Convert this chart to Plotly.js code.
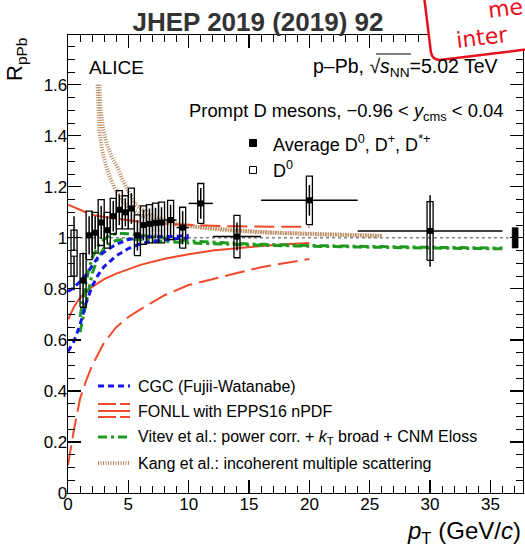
<!DOCTYPE html>
<html>
<head>
<meta charset="utf-8">
<script src="https://cdn.plot.ly/plotly-3.0.1.min.js"></script>
<style>html,body{margin:0;padding:0;background:#fff;}#chart{width:525px;height:556px;}</style>
</head>
<body>
<div id="chart"></div>
<script>
// ---------------- data ----------------
// D0 (0 < pT < 1 GeV/c)
const d0Pt = [0.5];
const d0Val = [0.94];
const d0Stat = [0.145];
const d0Sys = [0.09];
const d0BinHalf = [0.5];

// Average D0, D+, D*+
const avgPt = [1.25, 1.75, 2.25, 2.75, 3.25, 3.75, 4.25, 4.75, 5.25, 5.75, 6.25, 6.75, 7.25, 7.75, 8.5, 9.5, 11, 14, 20, 30];
const avgVal = [0.833, 1.01, 1.02, 1.06, 1.03, 1.085, 1.11, 1.10, 1.115, 1.01, 1.05, 1.055, 1.058, 1.06, 1.07, 1.04, 1.135, 1.005, 1.147, 1.027];
const avgStat = [0.11, 0.075, 0.065, 0.065, 0.055, 0.06, 0.06, 0.055, 0.06, 0.06, 0.06, 0.06, 0.06, 0.06, 0.06, 0.065, 0.06, 0.055, 0.06, 0.14];
const avgSys = [0.105, 0.095, 0.08, 0.09, 0.07, 0.07, 0.075, 0.065, 0.08, 0.08, 0.075, 0.075, 0.078, 0.08, 0.077, 0.08, 0.078, 0.083, 0.095, 0.115];
const avgBinHalf = [0.25, 0.25, 0.25, 0.25, 0.25, 0.25, 0.25, 0.25, 0.25, 0.25, 0.25, 0.25, 0.25, 0.25, 0.5, 0.5, 1, 2, 4, 6];

// normalisation uncertainty
const normPt = [37.05];
const normUnc = [0.04];
const unity = 1;

// CGC (Fujii-Watanabe)
const cgcPt = [0, 0.5, 1, 1.5, 2, 2.5, 3, 4, 5, 6, 7, 8, 9, 10];
const cgcUp = [0.79, 0.805, 0.83, 0.855, 0.89, 0.925, 0.945, 0.975, 0.993, 1.003, 1.004, 1.004, 1.006, 1.01];
const cgcLow = [0.555, 0.595, 0.66, 0.745, 0.81, 0.855, 0.888, 0.93, 0.958, 0.977, 0.986, 0.992, 0.997, 1.0];

// FONLL with EPPS16 nPDF
const fonllPt = [0, 0.5, 1, 1.5, 2, 3, 4, 5, 6, 8, 10, 12, 14, 16, 18, 20];
const fonllCen = [0.68, 0.73, 0.765, 0.79, 0.808, 0.838, 0.86, 0.878, 0.894, 0.918, 0.936, 0.95, 0.96, 0.968, 0.975, 0.98];
const fonllUp = [1.13, 1.12, 1.11, 1.1, 1.09, 1.082, 1.075, 1.069, 1.063, 1.055, 1.05, 1.047, 1.045, 1.044, 1.043, 1.043];
const fonllLow = [0.11, 0.25, 0.37, 0.44, 0.5, 0.59, 0.65, 0.69, 0.72, 0.775, 0.815, 0.84, 0.862, 0.885, 0.902, 0.917];

// Vitev et al.
const vitevPt = [1, 1.25, 1.5, 1.75, 2, 2.5, 3, 3.5, 4, 5, 6, 8, 10, 15, 20, 30, 36];
const vitevUp = [0.69, 0.76, 0.83, 0.88, 0.92, 0.97, 0.995, 1.01, 1.017, 1.016, 1.01, 0.998, 0.988, 0.976, 0.97, 0.963, 0.96];
const vitevLow = [0.63, 0.69, 0.75, 0.81, 0.86, 0.925, 0.96, 0.98, 0.99, 0.995, 0.992, 0.986, 0.98, 0.972, 0.967, 0.96, 0.957];

// Kang et al.
const kangAPt = [2.45, 2.5, 2.6, 2.8, 3.1, 3.5, 3.8, 4.3, 4.9, 6, 8, 10, 13, 16, 20, 26];
const kangA = [1.6, 1.5, 1.42, 1.35, 1.29, 1.235, 1.2, 1.16, 1.125, 1.09, 1.06, 1.045, 1.03, 1.022, 1.015, 1.008];
const kangBPt = [2.6, 2.7, 2.9, 3.2, 3.6, 4.07, 4.5, 4.8, 5.6, 7, 9, 11, 14, 17, 21, 26];
const kangB = [1.6, 1.5, 1.43, 1.37, 1.32, 1.28, 1.23, 1.2, 1.13, 1.085, 1.055, 1.042, 1.03, 1.02, 1.013, 1.008];

// ---------------- styles ----------------
const FONT = 'Liberation Sans, Arial, Helvetica, sans-serif';
const cBlue = '#1515f0', cRed = '#f04a2a', cGreen = '#1f9a1f', cBrown = '#b8895c';
const boxHalfWidth = 0.25;

function boxes(xs, ys, ss, hw) {
  const X = [], Y = [];
  for (let i = 0; i < xs.length; i++) {
    X.push(xs[i]-hw, xs[i]+hw, xs[i]+hw, xs[i]-hw, xs[i]-hw, null);
    Y.push(ys[i]-ss[i], ys[i]-ss[i], ys[i]+ss[i], ys[i]+ss[i], ys[i]-ss[i], null);
  }
  return {X, Y};
}
const line = (x, y, color, width, dash) => ({type:'scatter', mode:'lines', x, y, line:{color, width, dash}, hoverinfo:'skip'});

const traces = [];
traces.push(line([0, 36.5], [unity, unity], '#444', 1, 'dot'));
traces.push(line(kangAPt, kangA, cBrown, 4, '1px,1.5px'));
traces.push(line(kangBPt, kangB, cBrown, 4, '1px,1.5px'));
traces.push(line(fonllPt, fonllLow, cRed, 2, '20px,7px'));
traces.push(line(fonllPt, fonllUp, cRed, 2, '20px,7px'));
traces.push(line(fonllPt, fonllCen, cRed, 2, 'solid'));
traces.push(line(vitevPt, vitevUp, cGreen, 3, '9px,4px,3px,4px'));
traces.push(line(vitevPt, vitevLow, cGreen, 3, '9px,4px,3px,4px'));
traces.push(line(cgcPt, cgcUp, cBlue, 3, '6px,4px'));
traces.push(line(cgcPt, cgcLow, cBlue, 3, '6px,4px'));

const bA = boxes(avgPt, avgVal, avgSys, boxHalfWidth);
traces.push({type:'scatter', mode:'lines', x:bA.X, y:bA.Y, line:{color:'black', width:1.3}, connectgaps:false, hoverinfo:'skip'});
const bD = boxes(d0Pt, d0Val, d0Sys, boxHalfWidth);
traces.push({type:'scatter', mode:'lines', x:bD.X, y:bD.Y, line:{color:'black', width:1.3}, connectgaps:false, hoverinfo:'skip'});

const nb = boxes(normPt, [unity], normUnc, 0.25);
traces.push({type:'scatter', mode:'lines', x:nb.X, y:nb.Y, fill:'toself', fillcolor:'black', line:{color:'black', width:0.5}, hoverinfo:'skip'});

traces.push({type:'scatter', mode:'markers', x:avgPt, y:avgVal,
  marker:{symbol:'square', size:6, color:'black'},
  error_y:{type:'data', array:avgStat, visible:true, color:'black', thickness:1.5, width:0},
  error_x:{type:'data', array:avgBinHalf, visible:true, color:'black', thickness:1.5, width:0}, hoverinfo:'skip'});
traces.push({type:'scatter', mode:'markers', x:d0Pt, y:d0Val,
  marker:{symbol:'square', size:6, color:'white', line:{color:'black', width:1}},
  error_y:{type:'data', array:d0Stat, visible:true, color:'black', thickness:1.5, width:0},
  error_x:{type:'data', array:d0BinHalf, visible:false, color:'black', thickness:1.5, width:0}, hoverinfo:'skip'});

// ---------------- pixel -> paper helpers ----------------
const L = 68, T = 35, W = 455, H = 458;
const px = x => (x - L) / W;
const py = y => (T + H - y) / H;

const ann = (text, x, y, xanchor, size, extra) => Object.assign({
  text, x: px(x), y: py(y), xref:'paper', yref:'paper', xanchor, yanchor:'middle',
  showarrow:false, font:{family:FONT, size, color:'black'}
}, extra || {});

const annotations = [
  ann('ALICE', 87, 67, 'left', 19),
  ann('p–Pb, √<i>s</i><sub>NN</sub>=5.02 TeV', 500, 67, 'right', 19.5),
  ann('Prompt D mesons, −0.96 < <i>y</i><sub>cms</sub> < 0.04', 505, 112, 'right', 18.4),
  ann('Average D<sup>0</sup>, D<sup>+</sup>, D<sup>*+</sup>', 271, 143, 'left', 18),
  ann('D<sup>0</sup>', 271, 169, 'left', 18),
  ann('CGC (Fujii-Watanabe)', 136, 386, 'left', 16),
  ann('FONLL with EPPS16 nPDF', 136, 411, 'left', 16),
  ann('Vitev et al.: power corr. + <i>k</i><sub>T</sub> broad + CNM Eloss', 136, 437, 'left', 16),
  ann('Kang et al.: incoherent multiple scattering', 136, 463, 'left', 16),
  ann('<i>p</i><sub>T</sub> (GeV/<i>c</i>)', 523, 532, 'right', 24),
  ann('R<sub>pPb</sub>', 16, 60, 'center', 22, {textangle:-90}),
  ann('me', 484, 8, 'left', 24, {textangle:-7, font:{family:'DejaVu Sans', size:22, color:'#e8101c'}}),
  ann('inter', 452, 37, 'left', 24, {textangle:-7, font:{family:'DejaVu Sans', size:22, color:'#e8101c'}})
];

const hline = (x0, x1, y, color, width, dash) => ({type:'line', xref:'paper', yref:'paper',
  x0:px(x0), x1:px(x1), y0:py(y), y1:py(y), line:{color, width, dash}});
const sq = (cx, cy, s, fill) => ({type:'rect', xref:'paper', yref:'paper',
  x0:px(cx - s/2), x1:px(cx + s/2), y0:py(cy + s/2), y1:py(cy - s/2), fillcolor:fill, line:{color:'black', width:1}});

// rotated stamp
const th = 7 * Math.PI / 180;
const u = [Math.cos(th), -Math.sin(th)], v = [-Math.sin(th), -Math.cos(th)];
const B = [432, 61], r = 10;
const P = (a, b) => [B[0] + a*u[0] + b*v[0], B[1] + a*u[1] + b*v[1]];
const pp = p => px(p[0]).toFixed(4) + ',' + py(p[1]).toFixed(4);
const stampPath = 'M' + pp(P(0, r)) + ' L' + pp(P(0, 120)) + ' L' + pp(P(200, 120)) + ' L' + pp(P(200, 0)) +
  ' L' + pp(P(r, 0)) + ' Q' + pp(P(0, 0)) + ' ' + pp(P(0, r)) + ' Z';

const shapes = [
  sq(253, 143, 7, 'black'),
  sq(253, 170, 7, 'white'),
  hline(98, 130, 386, cBlue, 3, '6px,4px'),
  hline(98, 130, 404, cRed, 2, '18px,4px'),
  hline(98, 130, 411, cRed, 2, 'solid'),
  hline(98, 130, 417, cRed, 2, '18px,4px'),
  hline(98, 130, 437, cGreen, 3, '9px,4px,3px,4px'),
  hline(98, 130, 463, cBrown, 4, '1px,1.5px'),
  {type:'line', xref:'paper', yref:'paper', x0:px(376), x1:px(411), y0:py(54), y1:py(54), line:{color:'black', width:1}},
  {type:'path', xref:'paper', yref:'paper', path:stampPath, fillcolor:'white', line:{color:'#e8101c', width:2.5}, layer:'above'}
];

const axisCommon = {
  showline:true, linecolor:'black', linewidth:1.3, mirror:'ticks',
  ticks:'inside', ticklen:13, tickwidth:1.2, tickcolor:'black',
  showgrid:false, zeroline:false, fixedrange:true,
  tickfont:{family:FONT, size:17, color:'black'}
};

const layout = {
  width:525, height:556,
  margin:{l:L, r:525-L-W, t:T, b:556-T-H, pad:0},
  paper_bgcolor:'white', plot_bgcolor:'white',
  showlegend:false, hovermode:false,
  title:{text:'<b>JHEP 2019 (2019) 92</b>', x:258/525, xanchor:'center', y:1-21.5/556, yanchor:'middle',
    font:{family:FONT, size:26, color:'#333'}},
  xaxis:Object.assign({}, axisCommon, {range:[0, 37.7], tick0:0, dtick:5, ticklabelstandoff:-5,
    minor:{dtick:1, ticklen:7, ticks:'inside', tickcolor:'black', tickwidth:1}}),
  yaxis:Object.assign({}, axisCommon, {range:[0, 1.795], tick0:0, dtick:0.2, ticklabelstandoff:-4,
    minor:{dtick:0.05, ticklen:7, ticks:'inside', tickcolor:'black', tickwidth:1}}),
  annotations, shapes
};

Plotly.newPlot('chart', traces, layout, {staticPlot:true, displayModeBar:false});
</script>
</body>
</html>
